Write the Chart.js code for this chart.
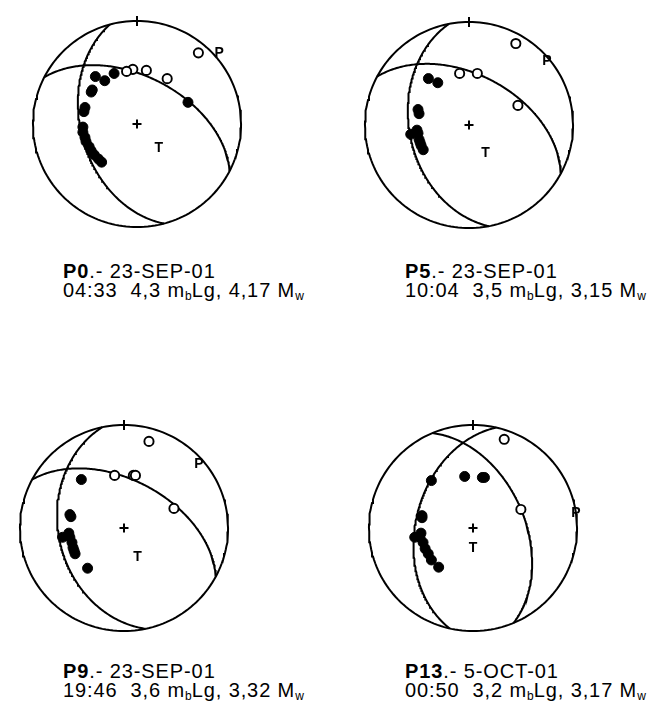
<!DOCTYPE html>
<html>
<head>
<meta charset="utf-8">
<script src="https://cdn.jsdelivr.net/npm/chart.js@4/dist/chart.umd.min.js"></script>
<style>
  html, body { margin: 0; padding: 0; background: #fff; }
  body { width: 647px; height: 717px; position: relative; overflow: hidden; }
  .net { position: absolute; width: 240px; height: 240px; }
  .caption {
    position: absolute;
    font-family: "Liberation Sans", Arial, sans-serif;
    font-size: 20px;
    line-height: 18.5px;
    letter-spacing: 0.9px;
    color: #000;
    white-space: pre;
  }
  .caption b { font-weight: bold; }
  .caption sub { font-size: 0.6em; letter-spacing: 0; position: relative; top: 0.3em; vertical-align: baseline; line-height: 0; }
</style>
</head>
<body>
<canvas id="net0" class="net" width="240" height="240"></canvas>
<canvas id="net1" class="net" width="240" height="240"></canvas>
<canvas id="net2" class="net" width="240" height="240"></canvas>
<canvas id="net3" class="net" width="240" height="240"></canvas>
<div id="cap0" class="caption"></div>
<div id="cap1" class="caption"></div>
<div id="cap2" class="caption"></div>
<div id="cap3" class="caption"></div>
<script>
// Events
const eventIds   = ['P0', 'P5', 'P9', 'P13'];
const eventDates = ['23-SEP-01', '23-SEP-01', '23-SEP-01', '5-OCT-01'];
const eventTimes = ['04:33', '10:04', '19:46', '00:50'];
const magMbLg    = ['4,3', '3,5', '3,6', '3,2'];
const magMw      = ['4,17', '3,15', '3,32', '3,17'];

// Nodal planes (strike, dip in degrees), two per event
const planeStrikes = [[165, 297], [169, 298], [168, 298], [337, 193]];
const planeDips    = [[45, 52], [42, 50], [37, 52], [49, 44]];

// First-motion polarities on the lower-hemisphere net (unit radius, north up)
const compressions = [
  [[-0.40, 0.46], [-0.31, 0.42], [-0.22, 0.49], [-0.44, 0.31], [-0.43, 0.33], [-0.50, 0.16],
   [-0.51, 0.12], [-0.52, -0.03], [-0.52, -0.08], [-0.50, -0.13], [-0.49, -0.17], [-0.46, -0.22],
   [-0.44, -0.26], [-0.41, -0.30], [-0.37, -0.34], [-0.34, -0.37], [0.49, 0.21]],
  [[-0.39, 0.45], [-0.30, 0.41], [-0.49, 0.15], [-0.48, 0.11], [-0.50, -0.05], [-0.56, -0.09],
   [-0.49, -0.08], [-0.48, -0.14], [-0.47, -0.17], [-0.46, -0.20], [-0.44, -0.24]],
  [[-0.41, 0.47], [-0.52, 0.13], [-0.51, 0.11], [-0.53, -0.05], [-0.59, -0.09], [-0.52, -0.09],
   [-0.50, -0.14], [-0.49, -0.19], [-0.48, -0.22], [-0.47, -0.25], [-0.35, -0.39]],
  [[-0.40, 0.46], [-0.08, 0.50], [0.09, 0.49], [0.11, 0.49], [-0.49, 0.12], [-0.49, 0.10],
   [-0.50, -0.05], [-0.56, -0.09], [-0.51, -0.09], [-0.48, -0.14], [-0.46, -0.20], [-0.43, -0.25],
   [-0.40, -0.31], [-0.33, -0.38]]
];
const dilatations = [
  [[0.59, 0.69], [0.29, 0.44], [0.09, 0.52], [-0.04, 0.53], [-0.10, 0.51]],
  [[0.45, 0.79], [-0.09, 0.50], [0.08, 0.50], [0.47, 0.19]],
  [[0.24, 0.84], [-0.09, 0.51], [0.09, 0.51], [0.11, 0.51], [0.48, 0.19]],
  [[0.30, 0.86], [0.46, 0.18]]
];

// P and T axis label positions
const pAxes = [[0.79, 0.69], [0.75, 0.62], [0.72, 0.62], [0.99, 0.14]];
const tAxes = [[0.21, -0.23], [0.16, -0.27], [0.13, -0.28], [0.00, -0.20]];

// Net centres on the page (px)
const netCentres = [[137, 124], [469, 125], [124, 528], [473, 528]];
const captionAnchors = [[63, 262], [405, 262], [63, 662], [405, 662]];

const RX = 110.5, RY = 109.5, HALF = 120;
const DEG = Math.PI / 180;

// Equal-area lower-hemisphere trace of a plane
function planeTrace(strike, dip) {
  const s = strike * DEG, d = dip * DEG, dd = s + Math.PI / 2;
  const sv = [Math.cos(s), Math.sin(s), 0];
  const dv = [Math.cos(d) * Math.cos(dd), Math.cos(d) * Math.sin(dd), Math.sin(d)];
  const pts = [];
  for (let k = 0; k <= 180; k += 1) {
    const l = k * DEG;
    const n = Math.cos(l) * sv[0] + Math.sin(l) * dv[0];
    const e = Math.cos(l) * sv[1] + Math.sin(l) * dv[1];
    const z = Math.cos(l) * sv[2] + Math.sin(l) * dv[2];
    const plunge = Math.asin(Math.max(-1, Math.min(1, z)));
    const trend = Math.atan2(e, n);
    const r = Math.SQRT2 * Math.sin((Math.PI / 2 - plunge) / 2);
    pts.push({ x: r * Math.sin(trend), y: r * Math.cos(trend) });
  }
  return pts;
}

function primitive() {
  const pts = [];
  for (let a = 0; a <= 360; a += 2) pts.push({ x: Math.sin(a * DEG), y: Math.cos(a * DEG) });
  return pts;
}

const toXY = arr => arr.map(p => ({ x: p[0], y: p[1] }));

const axisLabels = {
  id: 'axisLabels',
  afterDatasetsDraw(chart, args, opts) {
    const { ctx, scales } = chart;
    ctx.save();
    ctx.fillStyle = '#000';
    ctx.font = '600 14px "Liberation Sans", Arial, sans-serif';
    ctx.textAlign = 'center';
    ctx.textBaseline = 'middle';
    ctx.fillText('P', scales.x.getPixelForValue(opts.p[0]), scales.y.getPixelForValue(opts.p[1]));
    ctx.fillText('T', scales.x.getPixelForValue(opts.t[0]), scales.y.getPixelForValue(opts.t[1]));
    ctx.restore();
  }
};

eventIds.forEach((id, i) => {
  const cv = document.getElementById('net' + i);
  cv.style.left = (netCentres[i][0] - HALF) + 'px';
  cv.style.top = (netCentres[i][1] - HALF) + 'px';

  const lineStyle = { showLine: true, pointRadius: 0, borderColor: '#000', borderWidth: 2,
                      fill: false, tension: 0, clip: false, order: 2 };

  new Chart(cv, {
    type: 'scatter',
    data: {
      datasets: [
        { ...lineStyle, data: primitive() },
        { ...lineStyle, data: planeTrace(planeStrikes[i][0], planeDips[i][0]) },
        { ...lineStyle, data: planeTrace(planeStrikes[i][1], planeDips[i][1]) },
        { data: toXY(compressions[i]), pointRadius: 5, pointBackgroundColor: '#000',
          pointBorderColor: '#000', pointBorderWidth: 1, clip: false, order: 1 },
        { data: toXY(dilatations[i]), pointRadius: 4.6, pointBackgroundColor: '#fff',
          pointBorderColor: '#000', pointBorderWidth: 1.9, clip: false, order: 0 },
        { data: [{ x: 0, y: 0 }], pointStyle: 'cross', pointRadius: 4.5,
          pointBorderColor: '#000', pointBorderWidth: 2, clip: false, order: 0 },
        { data: [{ x: 0, y: 1 }], pointStyle: 'line', rotation: 90, pointRadius: 5,
          pointBorderColor: '#000', pointBorderWidth: 2, clip: false, order: 0 }
      ]
    },
    options: {
      responsive: false,
      animation: false,
      devicePixelRatio: 1,
      layout: { padding: 0 },
      events: [],
      plugins: {
        legend: { display: false },
        tooltip: { enabled: false },
        axisLabels: { p: pAxes[i], t: tAxes[i] }
      },
      scales: {
        x: { type: 'linear', display: false, min: -HALF / RX, max: HALF / RX },
        y: { type: 'linear', display: false, min: -HALF / RY, max: HALF / RY }
      }
    },
    plugins: [axisLabels]
  });

  const cap = document.getElementById('cap' + i);
  cap.style.left = captionAnchors[i][0] + 'px';
  cap.style.top = captionAnchors[i][1] + 'px';
  cap.innerHTML = '<b>' + id + '</b>.- ' + eventDates[i] + '\n' +
    eventTimes[i] + '  ' + magMbLg[i] + ' m<sub>b</sub>Lg, ' + magMw[i] + ' M<sub>w</sub>';
});
</script>
</body>
</html>
